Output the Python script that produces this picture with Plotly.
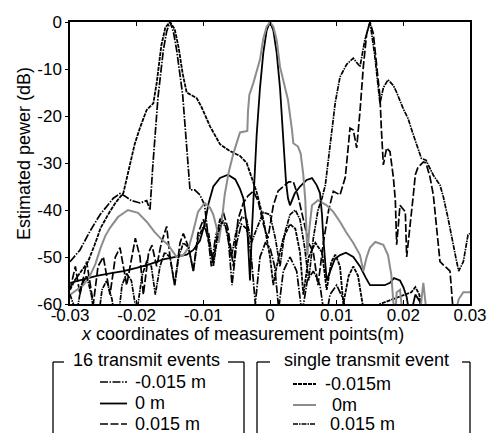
import plotly.graph_objects as go

# ---------------- data ----------------
# 16 transmit events, -0.015 m  (long dash-dot)
x_m16 = [-0.03, -0.0285, -0.027, -0.0255, -0.0235, -0.0225, -0.0218, -0.0208, -0.0195, -0.0185,
         -0.018, -0.0178, -0.0176, -0.0168, -0.016, -0.0155, -0.015, -0.0145, -0.014, -0.0131,
         -0.0123, -0.012, -0.0113, -0.0105, -0.0098, -0.0093, -0.0088, -0.0082, -0.0075, -0.0068,
         -0.0062, -0.0057, -0.005, -0.0043, -0.0035, -0.0028, -0.0022, -0.0015, -0.0007, 0.0,
         0.0007, 0.0013, 0.002, 0.003, 0.004, 0.0048, 0.0056, 0.0065, 0.0075, 0.0083, 0.009,
         0.01, 0.011, 0.0118, 0.02, 0.03]
y_m16 = [-51, -48.5, -44.5, -41, -37.5, -36.5, -37, -38, -38.5, -38,
         -40, -34, -31, -16, -6, -2, 0, -2, -6, -15.5,
         -30, -35.7, -35.7, -36.8, -39, -45, -52, -46, -42, -42.5,
         -47, -56, -47, -43, -44, -50, -60, -50, -47, -48,
         -52, -61, -53, -50, -53, -62, -55, -53, -56, -64, -58,
         -56, -59, -65, -66, -66]

# 16 transmit events, 0 m  (solid)
x_016 = [-0.03, -0.028, -0.026, -0.024, -0.022, -0.02, -0.018, -0.016, -0.014, -0.0125,
         -0.0115, -0.0105, -0.0098, -0.0092, -0.0085, -0.0075, -0.0063, -0.0052, -0.0045, -0.004,
         -0.0034, -0.003, -0.0027, -0.0024, -0.002, -0.0015, -0.001, -0.0005, 0.0, 0.0005,
         0.001, 0.0015, 0.002, 0.0024, 0.0027, 0.003, 0.0037, 0.0045, 0.0055, 0.0063,
         0.007, 0.0075, 0.0078, 0.008, 0.0085, 0.009, 0.0097, 0.0105, 0.0114, 0.0125,
         0.0135, 0.0144, 0.015, 0.016, 0.0172, 0.018, 0.0186, 0.0195, 0.02, 0.0205,
         0.021, 0.0218, 0.0225, 0.023, 0.025, 0.03]
y_016 = [-55.5, -54.8, -54, -53.5, -53, -52.3, -51.5, -50.5, -50, -49.5,
         -48.5, -46.5, -43, -38.5, -35, -33.2, -32.5, -33.5, -35.5, -37.5,
         -44, -55, -44, -36, -24, -14, -6.5, -1.8, 0, -1.8,
         -6.5, -14, -24, -34, -37.5, -39, -36.5, -35, -33.6, -33.2,
         -34.7, -36.4, -41, -46, -55, -53, -50.5, -49.6, -49.1, -50,
         -52, -54.5, -56, -56, -56, -55.5, -54.5, -55, -56.4, -58.5,
         -63, -58, -59.5, -64, -66, -66]

# 16 transmit events, 0.015 m  (long dash)
x_p16 = [-0.03, -0.0292, -0.0285, -0.0275, -0.0265, -0.0258, -0.025, -0.024, -0.0232, -0.0225,
         -0.0215, -0.0207, -0.0202, -0.0195, -0.019, -0.0182, -0.0177, -0.017, -0.0163, -0.0155,
         -0.015, -0.0143, -0.0135, -0.013, -0.0122, -0.0115, -0.0108, -0.01, -0.0093, -0.0085,
         -0.0078, -0.007, -0.0063, -0.0055, -0.0048, -0.004, -0.0033, -0.0025, -0.0018, -0.001,
         -0.0003, 0.0005, 0.0012, 0.002, 0.0028, 0.0035, 0.0042, 0.005, 0.0058, 0.0065,
         0.0072, 0.008, 0.0088, 0.0095, 0.0105, 0.0113, 0.012, 0.0125, 0.013, 0.0135,
         0.014, 0.0145, 0.015, 0.0155, 0.016, 0.0165, 0.0167, 0.017, 0.0175, 0.018,
         0.0185, 0.0188, 0.019, 0.0195, 0.0203, 0.0205, 0.0215, 0.0218, 0.0222, 0.023,
         0.0234, 0.024, 0.0245, 0.0255, 0.027, 0.0275, 0.0285, 0.03]
y_p16 = [-57, -52, -58, -51, -60, -52, -50, -58, -50, -48,
         -56, -50, -46, -50, -58, -49, -47.5, -52, -47, -43.5,
         -50, -56, -47, -45, -48, -53, -45, -42, -46, -51,
         -44, -40.5, -44, -52, -42, -38.5, -37, -36, -38, -43,
         -46, -39, -36, -35, -34, -34, -37, -42, -47, -49,
         -56, -47, -40, -36, -36.8, -33, -22.6, -23, -26.8, -19,
         -9.5, -2.5, 0, -2.5, -9.5, -16, -22.6, -30.4, -26.8, -27.6,
         -33, -37.9, -47.4, -39, -40.4, -50, -36.8, -32.5, -30.9, -29.8,
         -30, -33, -36.8, -51, -53, -62, -66, -66]

# single transmit event, -0.015 m  (short dash)
x_ms = [-0.03, -0.0293, -0.0283, -0.0273, -0.0263, -0.0254, -0.0243, -0.0232, -0.022, -0.0213,
        -0.0203, -0.0195, -0.0185, -0.0175, -0.017, -0.0163, -0.0157, -0.015, -0.0143, -0.0137,
        -0.0131, -0.0125, -0.0118, -0.011, -0.0103, -0.009, -0.0075, -0.0062, -0.0055, -0.0045,
        -0.0035, -0.0025, -0.002, -0.0015, -0.001, -0.0005, 0.0, 0.0005, 0.001, 0.002,
        0.003, 0.0038, 0.0045, 0.005, 0.0058, 0.0068, 0.0078, 0.0085, 0.0092, 0.0098,
        0.0105, 0.011, 0.0118, 0.0125, 0.0132, 0.014, 0.015, 0.0165, 0.0212, 0.0218,
        0.0224, 0.023, 0.03]
y_ms = [-57, -55, -53, -51, -47.4, -43.8, -41, -38.5, -36.4, -32,
        -26, -22.5, -18.7, -17.3, -13, -5, -1.2, 0, -1.5, -5.5,
        -11, -15, -15.5, -16.2, -18, -22.2, -26, -27.3, -27.8, -28.5,
        -30, -34, -36.2, -39, -42, -46, -50, -56, -52, -46,
        -43, -44, -49, -58, -50, -47, -49, -57, -51, -49.5,
        -52, -60, -54, -52, -54, -61, -64, -60, -57.5, -56.4,
        -58, -64, -66]

# single transmit event, 0 m  (gray solid)
x_0s = [-0.03, -0.029, -0.028, -0.027, -0.0262, -0.0254, -0.0247, -0.024, -0.0228, -0.0213,
        -0.0198, -0.0185, -0.0173, -0.0163, -0.0153, -0.0145, -0.014, -0.013, -0.0122, -0.0116,
        -0.0108, -0.0098, -0.009, -0.0085, -0.008, -0.0077, -0.0072, -0.0068, -0.0062, -0.0055,
        -0.005, -0.0045, -0.0034, -0.0033, -0.0031, -0.0025, -0.0015, -0.001, -0.0005, 0.0,
        0.0005, 0.001, 0.0015, 0.0027, 0.0033, 0.0035, 0.0042, 0.0046, 0.005, 0.0053,
        0.0056, 0.0059, 0.0063, 0.0072, 0.0085, 0.0095, 0.0105, 0.0114, 0.0125, 0.0135,
        0.014, 0.0145, 0.015, 0.0158, 0.017, 0.0177, 0.0182, 0.0185, 0.0188, 0.019,
        0.0195, 0.0198, 0.021, 0.0225, 0.023, 0.0235, 0.025, 0.0275, 0.0283, 0.029, 0.03]
y_0s = [-58, -57, -56, -54, -51.5, -48, -45.5, -43.8, -41.5, -40,
        -40.6, -42.5, -44.7, -46.2, -47.4, -49, -50, -49.6, -48, -45,
        -40.4, -38.5, -39.5, -41, -43.8, -47, -42, -36.8, -32, -28,
        -25.5, -23.5, -23.2, -19, -15.5, -13, -8, -3.5, -1, 0,
        -1, -3.8, -9.5, -16.6, -23, -25.8, -26.5, -28, -32.6, -38,
        -49.6, -44, -39, -37.9, -39, -40.4, -42.5, -44.7, -47, -49.6,
        -53, -50, -48, -46.8, -47.4, -49.6, -53.8, -59.6, -62, -57.5,
        -57, -61, -66, -62, -55.5, -62, -66, -64, -59, -57.5, -57.5]

# single transmit event, 0.015 m  (short dash-dot)
x_ps = [-0.03, -0.029, -0.0283, -0.0275, -0.0268, -0.026, -0.0252, -0.0245, -0.0237, -0.023,
        -0.0222, -0.0215, -0.0208, -0.02, -0.0192, -0.0185, -0.0178, -0.0172, -0.0165, -0.0158,
        -0.015, -0.0143, -0.0137, -0.013, -0.0122, -0.0115, -0.0108, -0.01, -0.0092, -0.0085,
        -0.0078, -0.0072, -0.0065, -0.0058, -0.005, -0.0042, -0.0035, -0.0028, -0.002, -0.001,
        0.0, 0.0008, 0.0015, 0.0022, 0.003, 0.0038, 0.0045, 0.0052, 0.0058, 0.0065,
        0.0072, 0.0078, 0.0083, 0.0087, 0.0093, 0.0098, 0.0105, 0.0115, 0.0125, 0.0135,
        0.0142, 0.015, 0.0157, 0.0165, 0.017, 0.0177, 0.0185, 0.019, 0.02, 0.0207,
        0.0215, 0.0222, 0.0227, 0.0234, 0.0245, 0.0255, 0.026, 0.0267, 0.0272, 0.0278,
        0.0283, 0.029, 0.0297, 0.03]
y_ps = [-58, -62, -56, -54, -58, -66, -57, -55, -59, -66,
        -56, -53.5, -55, -62, -54, -51, -52, -58, -52, -49,
        -50, -56, -50, -47, -48, -53, -46, -43.5, -45, -52,
        -45, -42.5, -44, -50, -44, -41.5, -42, -47, -44, -40.5,
        -41, -46, -52, -45, -41, -40, -42, -48, -55, -46,
        -40, -37.5, -34.7, -29.8, -22.6, -17, -11.7, -9, -7.7, -9.5,
        -4, 0, -7, -17.3, -14, -12.3, -13.5, -15, -18.5, -20.5,
        -24, -26.8, -29, -29.4, -32.6, -34.7, -37.2, -41.7, -45.5, -49.6,
        -53, -51, -45.3, -45]

x_ticks = [-0.03, -0.02, -0.01, 0.0, 0.01, 0.02, 0.03]
x_tick_labels = ["-0.03", "-0.02", "-0.01", "0", "0.01", "0.02", "0.03"]
y_ticks = [0, -10, -20, -30, -40, -50, -60]
y_tick_labels = ["0", "-10", "-20", "-30", "-40", "-50", "-60"]

group_titles = ["16 transmit events", "single transmit event"]
names_16 = ["-0.015 m", "0 m", "0.015 m"]
names_single = ["-0.015m", "0m", "0.015 m"]

# ---------------- styles ----------------
BLACK = "#000000"
GRAY = "#8c8c8c"
FONT = "Liberation Sans, Arial, Helvetica, sans-serif"

styles_16 = [dict(color=BLACK, width=1.7, dash="8px,1.5px,1.5px,1.5px"),
             dict(color=BLACK, width=1.8, dash="solid"),
             dict(color=BLACK, width=1.7, dash="8px,2.5px")]
styles_single = [dict(color=BLACK, width=1.8, dash="4px,1px"),
                 dict(color=GRAY, width=2.0, dash="solid"),
                 dict(color=BLACK, width=1.7, dash="5px,1px,1.5px,1px")]

fig = go.Figure()
series = [
    (x_m16, y_m16, "16 transmit " + names_16[0], styles_16[0]),
    (x_016, y_016, "16 transmit " + names_16[1], styles_16[1]),
    (x_p16, y_p16, "16 transmit " + names_16[2], styles_16[2]),
    (x_ms, y_ms, "single " + names_single[0], styles_single[0]),
    (x_0s, y_0s, "single " + names_single[1], styles_single[1]),
    (x_ps, y_ps, "single " + names_single[2], styles_single[2]),
]
for xs, ys, nm, st in series:
    fig.add_trace(go.Scatter(x=xs, y=ys, mode="lines", name=nm, line=st,
                             showlegend=False))

# pixel helpers for legend decoration (plot area: x 70..470, y 22..304)
L, R, T, B = 70, 470, 22, 304
def px(p):
    return (p - L) / (R - L)
def py(p):
    return (B - p) / (B - T)

shapes = []
annotations = []

def frame(x0, x1, tx0, tx1, ytop, ybot):
    kw = dict(type="line", xref="paper", yref="paper", line=dict(color=BLACK, width=1.3))
    shapes.append(dict(x0=px(x0), x1=px(x0), y0=py(ytop), y1=py(ybot), **kw))
    shapes.append(dict(x0=px(x1), x1=px(x1), y0=py(ytop), y1=py(ybot), **kw))
    shapes.append(dict(x0=px(x0), x1=px(tx0), y0=py(ytop), y1=py(ytop), **kw))
    shapes.append(dict(x0=px(tx1), x1=px(x1), y0=py(ytop), y1=py(ytop), **kw))

frame(53, 244, 64, 228, 362, 445)
frame(257, 470, 270, 462, 362, 445)

annotations.append(dict(text=group_titles[0], x=px(146), y=py(360), xref="paper", yref="paper",
                        xanchor="center", yanchor="middle", showarrow=False,
                        font=dict(size=18, family=FONT, color=BLACK)))
annotations.append(dict(text=group_titles[1], x=px(366), y=py(360), xref="paper", yref="paper",
                        xanchor="center", yanchor="middle", showarrow=False,
                        font=dict(size=18, family=FONT, color=BLACK)))

rows_left = [382, 403.5, 424]
rows_right = [384, 405, 424]
text_x_right = [323, 330, 328]
for i in range(3):
    st = styles_16[i]
    shapes.append(dict(type="line", xref="paper", yref="paper", x0=px(100), x1=px(127),
                       y0=py(rows_left[i]), y1=py(rows_left[i]),
                       line=dict(color=st["color"], width=st["width"], dash=st["dash"])))
    annotations.append(dict(text=names_16[i], x=px(133), y=py(rows_left[i]), xref="paper", yref="paper",
                            xanchor="left", yanchor="middle", showarrow=False,
                            font=dict(size=18, family=FONT, color=BLACK)))
    st = styles_single[i]
    shapes.append(dict(type="line", xref="paper", yref="paper", x0=px(293), x1=px(316),
                       y0=py(rows_right[i]), y1=py(rows_right[i]),
                       line=dict(color=st["color"], width=st["width"], dash=st["dash"])))
    annotations.append(dict(text=names_single[i], x=px(text_x_right[i]), y=py(rows_right[i]),
                            xref="paper", yref="paper",
                            xanchor="left", yanchor="middle", showarrow=False,
                            font=dict(size=18, family=FONT, color=BLACK)))

# axis titles
annotations.append(dict(text="<i>x</i> coordinates of measurement points(m)", x=px(242.5), y=py(334),
                        xref="paper", yref="paper", xanchor="center", yanchor="middle",
                        showarrow=False, font=dict(size=18, family=FONT, color=BLACK)))
annotations.append(dict(text="Estimated pewer (dB)", x=px(24), y=py(154), textangle=-90,
                        xref="paper", yref="paper", xanchor="center", yanchor="middle",
                        showarrow=False, font=dict(size=18, family=FONT, color=BLACK)))

fig.update_layout(
    width=491, height=433,
    margin=dict(l=70, r=21, t=22, b=129),
    paper_bgcolor="white", plot_bgcolor="white",
    font=dict(family=FONT, size=17, color=BLACK),
    showlegend=False,
    shapes=shapes, annotations=annotations,
    xaxis=dict(range=[-0.03, 0.03], tickvals=x_ticks, ticktext=x_tick_labels, automargin=False,
               showgrid=False, zeroline=False, showline=True, linecolor=BLACK, linewidth=1.5,
               mirror="ticks", ticks="inside", ticklen=4, tickcolor=BLACK,
               ticklabelstandoff=-5,
               tickfont=dict(size=17, family=FONT, color=BLACK)),
    yaxis=dict(range=[-60, 0], tickvals=y_ticks, ticktext=y_tick_labels, automargin=False,
               showgrid=False, zeroline=False, showline=True, linecolor=BLACK, linewidth=1.5,
               mirror=True, ticks="outside", ticklen=3, tickcolor=BLACK,
               tickfont=dict(size=17, family=FONT, color=BLACK)),
    yaxis2=dict(range=[-60, 0], tickvals=y_ticks, overlaying="y", side="right", anchor="x",
                showticklabels=False, ticks="inside", ticklen=4, tickcolor=BLACK,
                showgrid=False, zeroline=False, showline=False, automargin=False),
)

fig.write_html("out.html", config={"displayModeBar": False},
               post_script="document.body.style.margin='0px';")
